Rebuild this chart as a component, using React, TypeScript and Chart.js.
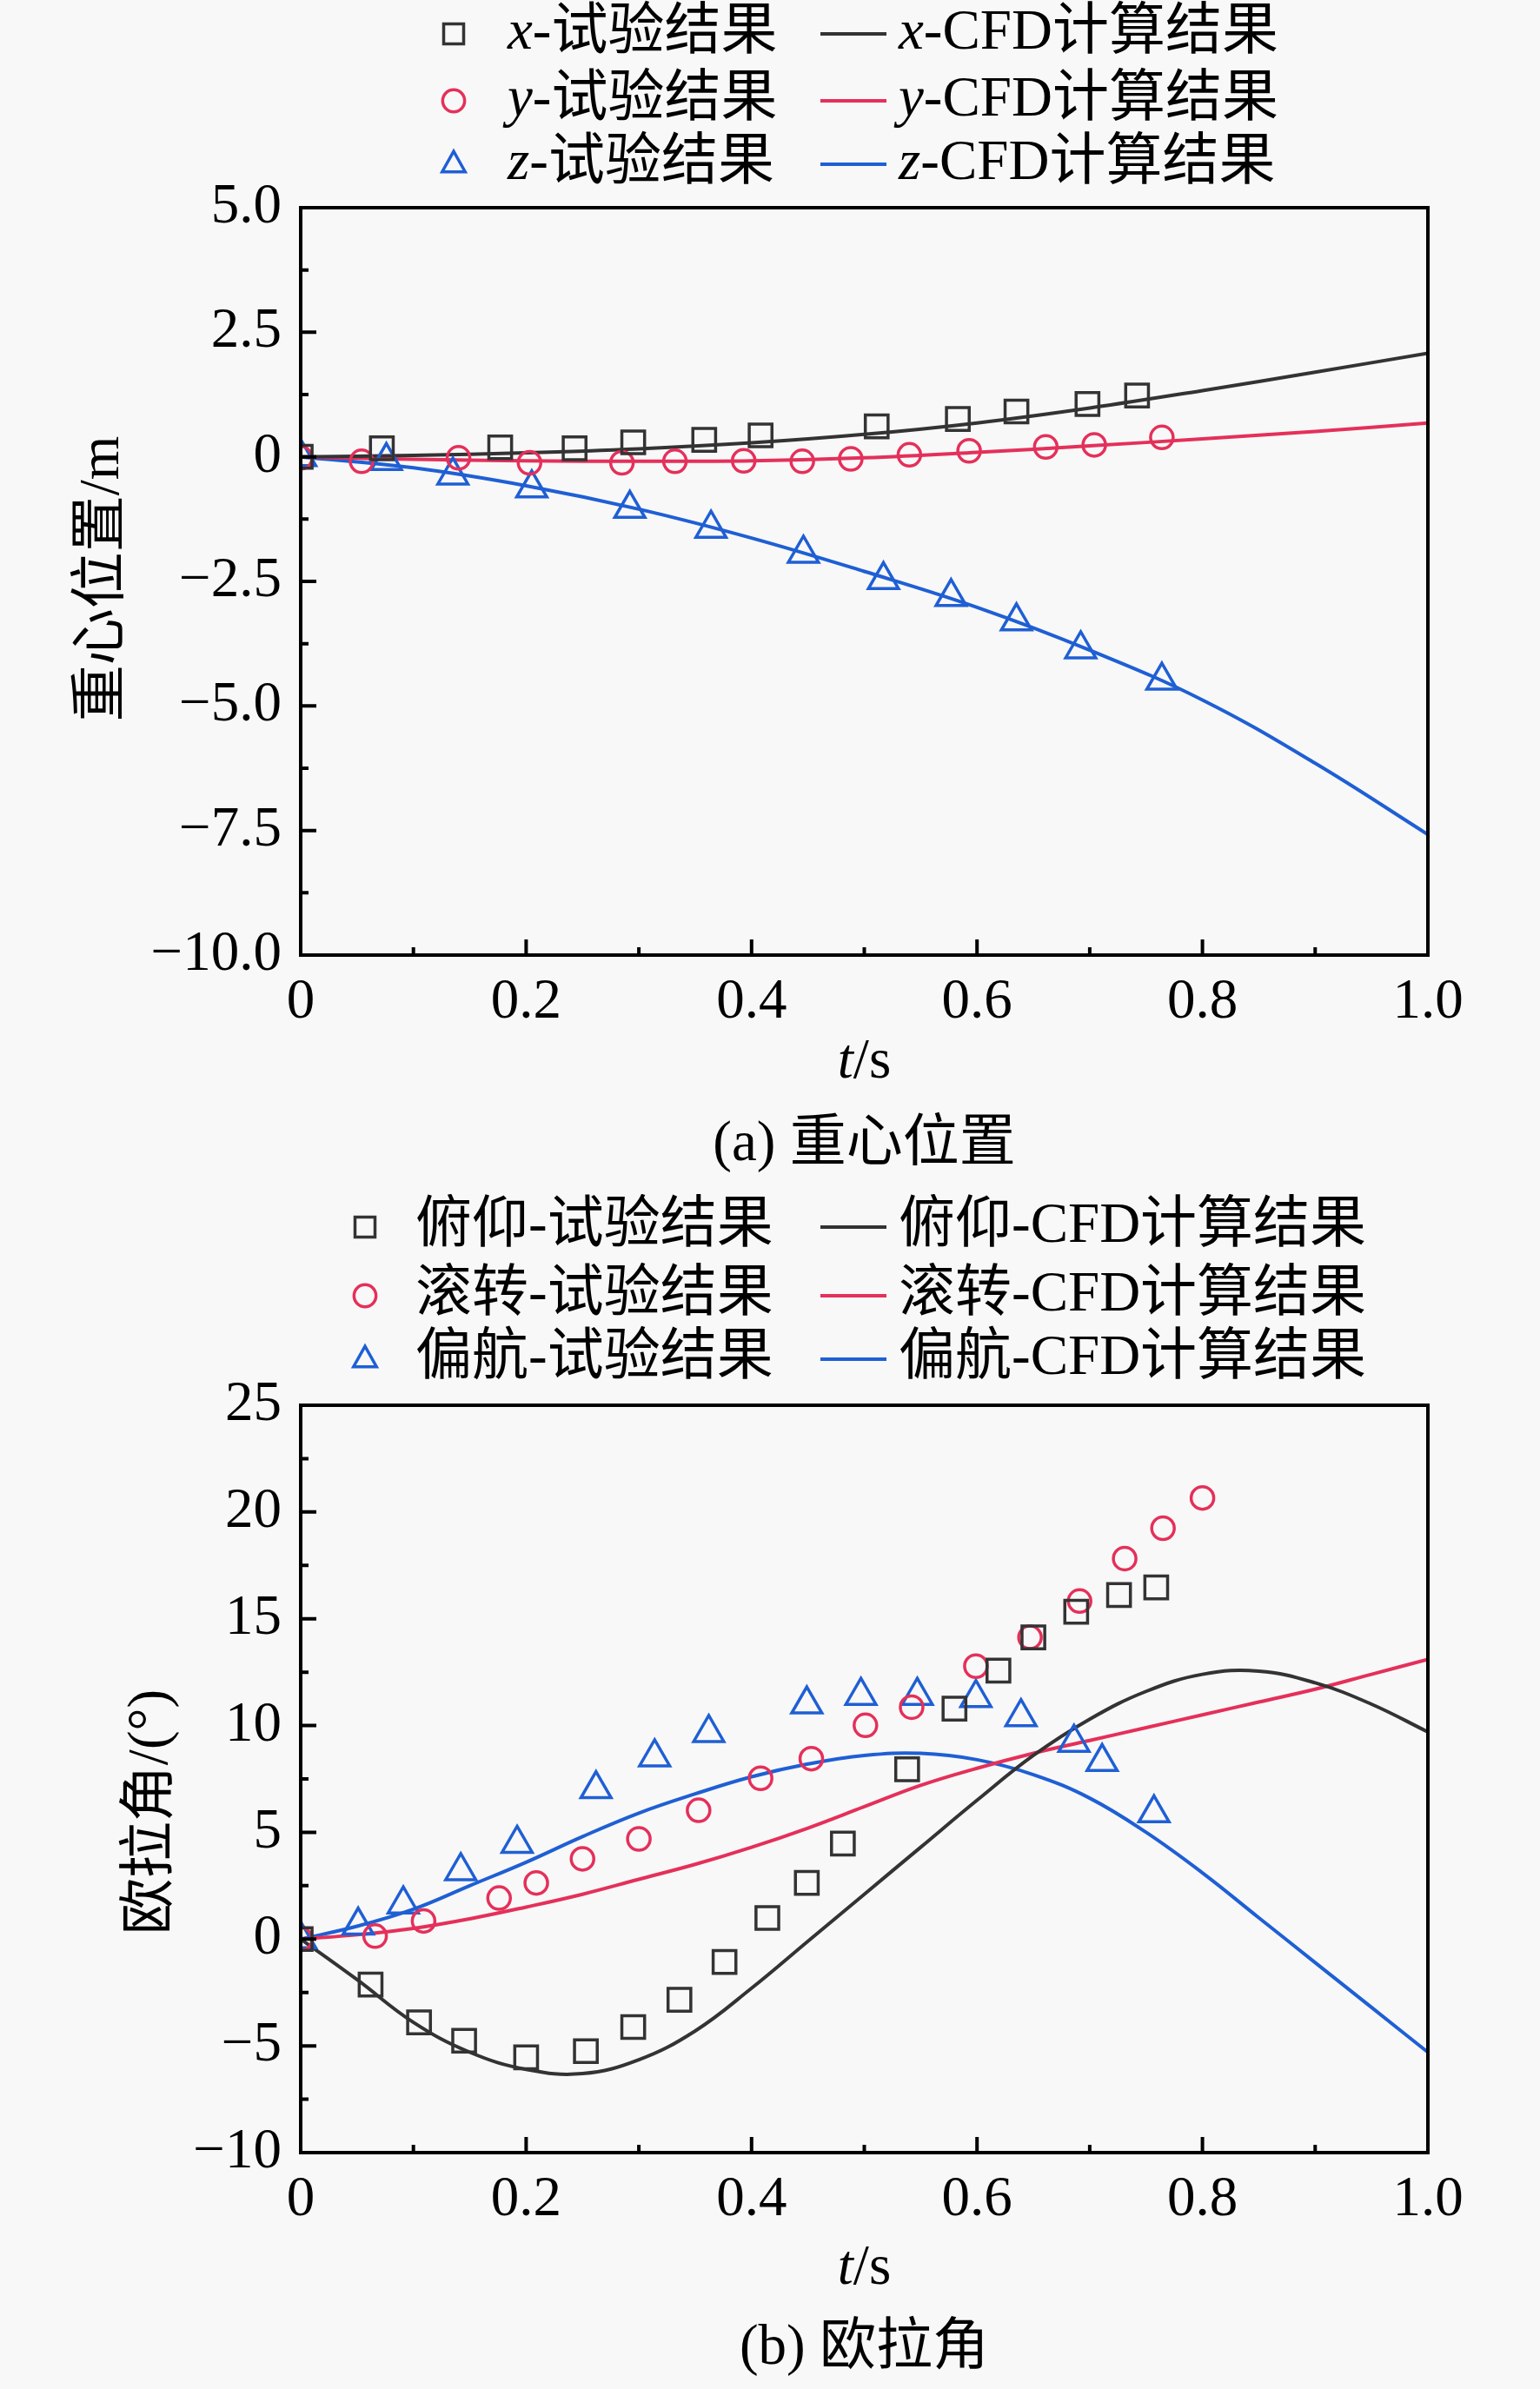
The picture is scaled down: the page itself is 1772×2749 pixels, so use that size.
import { useEffect, useRef } from 'react';
import { Chart, registerables } from 'chart.js';

Chart.register(...registerables);

const FONT = "'Liberation Serif', 'Noto Sans CJK SC', serif";
const FONT_SIZE = 65;

// ---- (a) 重心位置 ----
const posTx = [0, 0.072, 0.177, 0.243, 0.295, 0.358, 0.408, 0.511, 0.583, 0.635, 0.698, 0.742];
const posX = [0, 0.17, 0.19, 0.17, 0.29, 0.34, 0.43, 0.61, 0.76, 0.91, 1.06, 1.23];
const posTy = [0, 0.054, 0.14, 0.203, 0.285, 0.332, 0.393, 0.445, 0.488, 0.54, 0.593, 0.661, 0.704, 0.764];
const posY = [-0.02, -0.09, -0.02, -0.12, -0.12, -0.09, -0.08, -0.09, -0.04, 0.04, 0.12, 0.2, 0.24, 0.39];
const posTz = [0, 0.076, 0.135, 0.205, 0.292, 0.364, 0.446, 0.517, 0.577, 0.635, 0.692, 0.764];
const posZ = [0, -0.08, -0.37, -0.63, -1.04, -1.44, -1.94, -2.47, -2.81, -3.3, -3.86, -4.49];

const cfdT = [0, 0.1, 0.2, 0.3, 0.4, 0.5, 0.6, 0.7, 0.8, 0.9, 1.0];
const cfdX = [0, 0.03, 0.08, 0.16, 0.28, 0.45, 0.68, 0.98, 1.33, 1.7, 2.08];
const cfdY = [0, -0.05, -0.08, -0.09, -0.08, -0.02, 0.09, 0.22, 0.36, 0.51, 0.68];
const cfdZ = [0, -0.22, -0.58, -1.05, -1.63, -2.3, -3.02, -3.88, -4.88, -6.15, -7.58];

// ---- (b) 欧拉角 ----
const pitchT = [0, 0.062, 0.105, 0.145, 0.2, 0.253, 0.295, 0.336, 0.376, 0.414, 0.449, 0.481, 0.538, 0.58, 0.619, 0.65, 0.688, 0.726, 0.759];
const pitchV = [0, -2.13, -3.9, -4.76, -5.54, -5.25, -4.12, -2.84, -1.07, 0.99, 2.63, 4.47, 7.95, 10.79, 12.57, 14.13, 15.33, 16.11, 16.47];
const rollT = [0, 0.066, 0.109, 0.176, 0.209, 0.25, 0.3, 0.353, 0.408, 0.453, 0.501, 0.542, 0.599, 0.647, 0.691, 0.731, 0.765, 0.8];
const rollV = [0, 0.14, 0.85, 1.92, 2.63, 3.76, 4.69, 6.03, 7.53, 8.45, 10.01, 10.86, 12.78, 14.13, 15.83, 17.82, 19.24, 20.66];
const yawT = [0, 0.051, 0.091, 0.142, 0.192, 0.262, 0.314, 0.362, 0.449, 0.497, 0.547, 0.599, 0.639, 0.686, 0.711, 0.757];
const yawV = [0, 0.64, 1.63, 3.19, 4.47, 7.03, 8.52, 9.66, 11.0, 11.4, 11.4, 11.3, 10.4, 9.2, 8.3, 5.9];

const angT = [0, 0.05, 0.1, 0.15, 0.2, 0.25, 0.3, 0.35, 0.4, 0.45, 0.5, 0.55, 0.6, 0.65, 0.7, 0.75, 0.8, 0.85, 0.9, 0.95, 1.0];
const cfdPitch = [0, -1.9, -3.9, -5.3, -6.1, -6.3, -5.65, -4.3, -2.3, -0.1, 2.1, 4.3, 6.5, 8.6, 10.3, 11.6, 12.4, 12.55, 12.0, 11.0, 9.7];
const cfdRoll = [0, 0.2, 0.5, 0.95, 1.5, 2.1, 2.8, 3.5, 4.3, 5.2, 6.2, 7.2, 8.0, 8.7, 9.3, 9.9, 10.5, 11.1, 11.7, 12.4, 13.1];
const cfdYaw = [0, 0.6, 1.4, 2.5, 3.6, 4.8, 5.9, 6.8, 7.6, 8.2, 8.6, 8.7, 8.4, 7.7, 6.6, 5.0, 3.1, 1.0, -1.1, -3.2, -5.3];

const BLACK = '#333333';
const RED = '#e4305a';
const BLUE = '#1f5fd4';

type Part = { text: string; italic?: boolean };

const setFont = (ctx: CanvasRenderingContext2D, italic?: boolean) => {
  ctx.font = `${italic ? 'italic ' : ''}${FONT_SIZE}px ${FONT}`;
};

const drawParts = (ctx: CanvasRenderingContext2D, parts: Part[], x: number, y: number, align: 'left' | 'center') => {
  const widths = parts.map(p => {
    setFont(ctx, p.italic);
    return ctx.measureText(p.text).width;
  });
  const total = widths.reduce((s, w) => s + w, 0);
  let cx = align === 'center' ? x - total / 2 : x;
  ctx.textAlign = 'left';
  ctx.textBaseline = 'middle';
  parts.forEach((p, i) => {
    setFont(ctx, p.italic);
    ctx.fillText(p.text, cx, y);
    cx += widths[i];
  });
};

const drawMarker = (ctx: CanvasRenderingContext2D, style: string, x: number, y: number, s: number) => {
  ctx.beginPath();
  if (style === 'rect') {
    ctx.rect(x - s, y - s, 2 * s, 2 * s);
  } else if (style === 'circle') {
    ctx.arc(x, y, s * 1.1, 0, Math.PI * 2);
  } else {
    ctx.moveTo(x, y - s * 1.3);
    ctx.lineTo(x + s * 1.15, y + s * 0.75);
    ctx.lineTo(x - s * 1.15, y + s * 0.75);
    ctx.closePath();
  }
  ctx.stroke();
};

interface LegendRow {
  style: string;
  color: string;
  left: Part[];
  right: Part[];
}

interface DecorOptions {
  rows: LegendRow[];
  rowY: number[];
  markerX: number;
  textX: number;
  lineX0: number;
  lineX1: number;
  text2X: number;
  xTitleY: number;
  captionY: number;
  caption: string;
  yTitle: string;
  yTitleX: number;
  yTitleY: number;
}

const decorPlugin = {
  id: 'decor',
  afterDraw(chart: any, _args: any, o: DecorOptions) {
    const { ctx, chartArea: a, scales } = chart;
    const xs = scales.x;
    const ys = scales.y;
    ctx.save();
    ctx.strokeStyle = '#000';
    ctx.fillStyle = '#000';
    ctx.lineWidth = 4;
    ctx.strokeRect(a.left, a.top, a.right - a.left, a.bottom - a.top);

    // inward ticks, major + one minor between
    const xt = xs.ticks.map((t: any) => t.value);
    const yt = ys.ticks.map((t: any) => t.value);
    ctx.beginPath();
    xt.forEach((v: number, i: number) => {
      const px = xs.getPixelForValue(v);
      ctx.moveTo(px, a.bottom);
      ctx.lineTo(px, a.bottom - 18);
      if (i < xt.length - 1) {
        const mx = xs.getPixelForValue((v + xt[i + 1]) / 2);
        ctx.moveTo(mx, a.bottom);
        ctx.lineTo(mx, a.bottom - 9);
      }
    });
    yt.forEach((v: number, i: number) => {
      const py = ys.getPixelForValue(v);
      ctx.moveTo(a.left, py);
      ctx.lineTo(a.left + 18, py);
      if (i < yt.length - 1) {
        const my = ys.getPixelForValue((v + yt[i + 1]) / 2);
        ctx.moveTo(a.left, my);
        ctx.lineTo(a.left + 9, my);
      }
    });
    ctx.stroke();

    // legend
    o.rows.forEach((r, i) => {
      const y = o.rowY[i];
      ctx.strokeStyle = r.color;
      ctx.lineWidth = 3.5;
      drawMarker(ctx, r.style, o.markerX, y, 11.5);
      ctx.lineWidth = 4;
      ctx.beginPath();
      ctx.moveTo(o.lineX0, y);
      ctx.lineTo(o.lineX1, y);
      ctx.stroke();
      ctx.fillStyle = '#000';
      drawParts(ctx, r.left, o.textX, y, 'left');
      drawParts(ctx, r.right, o.text2X, y, 'left');
    });

    // axis titles & caption
    const cx = (a.left + a.right) / 2;
    drawParts(ctx, [{ text: 't', italic: true }, { text: '/s' }], cx, o.xTitleY, 'center');
    drawParts(ctx, [{ text: o.caption }], cx, o.captionY, 'center');
    ctx.save();
    ctx.translate(o.yTitleX, o.yTitleY);
    ctx.rotate(-Math.PI / 2);
    drawParts(ctx, [{ text: o.yTitle }], 0, 0, 'center');
    ctx.restore();
    ctx.restore();
  },
};

const pts = (t: number[], v: number[]) => t.map((x, i) => ({ x, y: v[i] }));

const scatterSet = (label: string, t: number[], v: number[], color: string, style: string, r: number) => ({
  type: 'scatter' as const,
  label,
  data: pts(t, v),
  showLine: false,
  pointStyle: style,
  pointRadius: r,
  pointBorderColor: color,
  pointBackgroundColor: 'rgba(0,0,0,0)',
  pointBorderWidth: 3.5,
});

const lineSet = (label: string, t: number[], v: number[], color: string) => ({
  type: 'line' as const,
  label,
  data: pts(t, v),
  borderColor: color,
  borderWidth: 4,
  pointRadius: 0,
  tension: 0.4,
  fill: false,
});

const minusFmt = (v: number, digits: number) => {
  if (Math.abs(v) < 1e-9) return '0';
  const s = Math.abs(v).toFixed(digits);
  return v < 0 ? '\u2212' + s : s;
};

interface PanelProps {
  height: number;
  top: number;
  datasets: any[];
  yMin: number;
  yMax: number;
  yStep: number;
  yDigits: number;
  decor: DecorOptions;
}

const Panel: React.FC<PanelProps> = ({ height, top, datasets, yMin, yMax, yStep, yDigits, decor }) => {
  const ref = useRef<HTMLCanvasElement>(null);
  const chartRef = useRef<Chart | null>(null);

  useEffect(() => {
    if (!ref.current) return;
    const ctx = ref.current.getContext('2d');
    if (!ctx) return;
    const tickFont = { family: FONT, size: FONT_SIZE };
    chartRef.current = new Chart(ctx, {
      type: 'scatter',
      data: { datasets },
      plugins: [decorPlugin],
      options: {
        responsive: false,
        devicePixelRatio: 1,
        animation: false,
        layout: { padding: { left: 0, right: 1772 - 1643, top, bottom: 0 } },
        plugins: {
          legend: { display: false },
          tooltip: { enabled: false },
          decor,
        } as any,
        scales: {
          x: {
            type: 'linear',
            min: 0,
            max: 1,
            border: { display: false },
            grid: { display: false, drawTicks: false },
            ticks: {
              stepSize: 0.2,
              padding: 16,
              color: '#000',
              font: tickFont,
              maxRotation: 0,
              callback: (v: any) => minusFmt(Number(v), 1),
            },
            afterFit: (s: any) => {
              s.height = height - top - 860;
            },
          },
          y: {
            type: 'linear',
            min: yMin,
            max: yMax,
            border: { display: false },
            grid: { display: false, drawTicks: false },
            ticks: {
              stepSize: yStep,
              padding: 22,
              color: '#000',
              font: tickFont,
              callback: (v: any) => minusFmt(Number(v), yDigits),
            },
            afterFit: (s: any) => {
              s.width = 346;
            },
          },
        },
      },
    });
    return () => {
      chartRef.current?.destroy();
      chartRef.current = null;
    };
  }, []);

  return (
    <div style={{ width: 1772, height }}>
      <canvas ref={ref} width={1772} height={height} style={{ width: 1772, height }} />
    </div>
  );
};

const posDatasets = [
  scatterSet('x-试验结果', posTx, posX, BLACK, 'rect', 18.5),
  scatterSet('y-试验结果', posTy, posY, RED, 'circle', 13),
  scatterSet('z-试验结果', posTz, posZ, BLUE, 'triangle', 20),
  lineSet('x-CFD计算结果', cfdT, cfdX, BLACK),
  lineSet('y-CFD计算结果', cfdT, cfdY, RED),
  lineSet('z-CFD计算结果', cfdT, cfdZ, BLUE),
];

const angDatasets = [
  scatterSet('俯仰-试验结果', pitchT, pitchV, BLACK, 'rect', 18.5),
  scatterSet('滚转-试验结果', rollT, rollV, RED, 'circle', 13),
  scatterSet('偏航-试验结果', yawT, yawV, BLUE, 'triangle', 20),
  lineSet('俯仰-CFD计算结果', angT, cfdPitch, BLACK),
  lineSet('滚转-CFD计算结果', angT, cfdRoll, RED),
  lineSet('偏航-CFD计算结果', angT, cfdYaw, BLUE),
];

const posLegend: LegendRow[] = [
  { style: 'rect', color: BLACK, left: [{ text: 'x', italic: true }, { text: '-试验结果' }], right: [{ text: 'x', italic: true }, { text: '-CFD计算结果' }] },
  { style: 'circle', color: RED, left: [{ text: 'y', italic: true }, { text: '-试验结果' }], right: [{ text: 'y', italic: true }, { text: '-CFD计算结果' }] },
  { style: 'triangle', color: BLUE, left: [{ text: 'z', italic: true }, { text: '-试验结果' }], right: [{ text: 'z', italic: true }, { text: '-CFD计算结果' }] },
];

const angLegend: LegendRow[] = [
  { style: 'rect', color: BLACK, left: [{ text: '俯仰-试验结果' }], right: [{ text: '俯仰-CFD计算结果' }] },
  { style: 'circle', color: RED, left: [{ text: '滚转-试验结果' }], right: [{ text: '滚转-CFD计算结果' }] },
  { style: 'triangle', color: BLUE, left: [{ text: '偏航-试验结果' }], right: [{ text: '偏航-CFD计算结果' }] },
];

export default function App() {
  return (
    <div style={{ position: 'absolute', left: 0, top: 0, width: 1772, height: 2749, background: '#f8f8f8' }}>
      <Panel
        height={1374}
        top={239}
        datasets={posDatasets}
        yMin={-10}
        yMax={5}
        yStep={2.5}
        yDigits={1}
        decor={{
          rows: posLegend,
          rowY: [39, 116, 189],
          markerX: 522,
          textX: 584,
          lineX0: 944,
          lineX1: 1020,
          text2X: 1034,
          xTitleY: 1223,
          captionY: 1318,
          caption: '(a) 重心位置',
          yTitle: '重心位置/m',
          yTitleX: 119,
          yTitleY: 666,
        }}
      />
      <Panel
        height={1375}
        top={243}
        datasets={angDatasets}
        yMin={-10}
        yMax={25}
        yStep={5}
        yDigits={0}
        decor={{
          rows: angLegend,
          rowY: [38, 117, 190],
          markerX: 420,
          textX: 478,
          lineX0: 944,
          lineX1: 1020,
          text2X: 1034,
          xTitleY: 1237,
          captionY: 1329,
          caption: '(b) 欧拉角',
          yTitle: '欧拉角/(°)',
          yTitleX: 175,
          yTitleY: 711,
        }}
      />
    </div>
  );
}
